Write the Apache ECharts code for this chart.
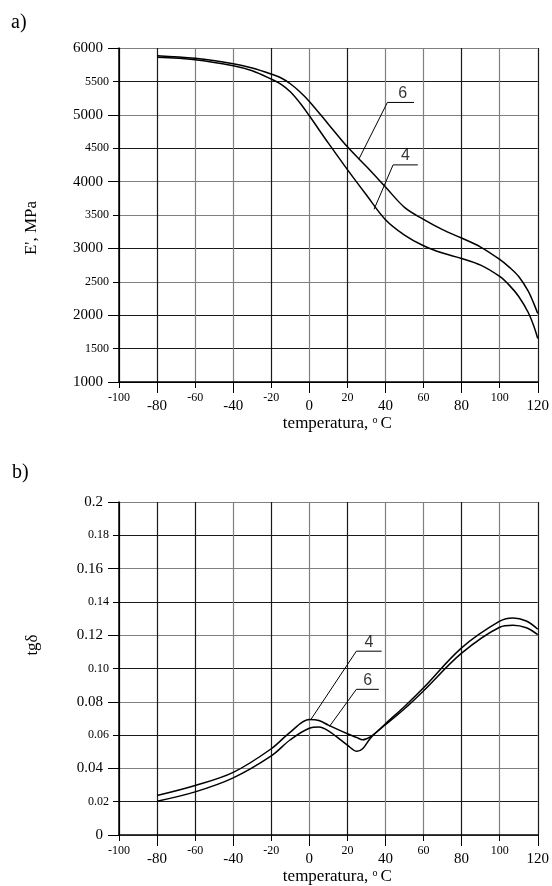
<!DOCTYPE html>
<html>
<head>
<meta charset="utf-8">
<script src="https://cdn.jsdelivr.net/npm/echarts@6/dist/echarts.min.js"></script>
<style>
  html, body { margin: 0; padding: 0; background: #fff; }
  #chart { width: 552px; height: 886px; }
</style>
</head>
<body>
<div id="chart"></div>
<script>
// a) storage modulus E' vs temperature
const tempTop = [-80, -60, -40, -30, -20, -15, -10, -5, 0, 10, 20, 30, 40, 50, 60, 70, 80, 90, 100, 105, 110, 115, 118, 120]
const eCurve6 = [5885, 5845, 5765, 5700, 5610, 5555, 5465, 5345, 5200, 4860, 4520, 4225, 3920, 3615, 3435, 3280, 3155, 3020, 2835, 2720, 2580, 2360, 2170, 2025]
const eCurve4 = [5860, 5825, 5735, 5660, 5535, 5460, 5345, 5180, 4985, 4575, 4180, 3800, 3430, 3200, 3040, 2930, 2850, 2750, 2580, 2450, 2280, 2040, 1830, 1650]

// b) loss tangent tg delta vs temperature
const tempBot = [-80, -60, -40, -20, -10, 0, 5, 10, 20, 25, 28, 32, 40, 50, 60, 80, 100, 107, 114, 120]
const tgCurve4 = [0.0237, 0.0297, 0.0376, 0.0518, 0.0618, 0.0693, 0.0688, 0.0660, 0.0608, 0.0585, 0.0572, 0.0590, 0.0662, 0.0758, 0.0866, 0.1092, 0.1248, 0.1260, 0.1245, 0.1204]
const tgCurve6 = [0.0203, 0.0259, 0.0343, 0.0475, 0.0572, 0.0641, 0.0648, 0.0625, 0.0540, 0.0503, 0.0518, 0.0580, 0.0668, 0.0772, 0.0884, 0.1124, 0.1284, 0.1304, 0.1285, 0.1236]

// tick labels
const xBigTicks = [-80, -40, 0, 40, 80, 120]
const xSmallTicks = [-100, -60, -20, 20, 60, 100]
const eBigTicks = [1000, 2000, 3000, 4000, 5000, 6000]
const eSmallTicks = [1500, 2500, 3500, 4500, 5500]
const tgBigTicks = [0, 0.04, 0.08, 0.12, 0.16, 0.2]
const tgBigLabels = ['0', '0.04', '0.08', '0.12', '0.16', '0.2']
const tgSmallTicks = [0.02, 0.06, 0.1, 0.14, 0.18]
const tgSmallLabels = ['0.02', '0.06', '0.10', '0.14', '0.18']

// curve callouts: [curve point, elbow, end of underline]
const calloutTop6 = [[26, 4335], [41, 5185], [55, 5185]]
const calloutTop4 = [[34, 3585], [44, 4250], [57, 4250]]
const calloutBot4 = [[1, 0.0697], [24.7, 0.1104], [38, 0.1104]]
const calloutBot6 = [[10.5, 0.0651], [24.7, 0.0875], [36.5, 0.0875]]
const calloutTopText = [[49, 5185, '6'], [50.5, 4250, '4']]
const calloutBotText = [[31.3, 0.1104, '4'], [30.6, 0.0875, '6']]

const serif = 'Liberation Serif'
const DK = '#1a1a1a'
const GR = '#808080'

let myChart = echarts.init(document.getElementById('chart'))

function pairs (xs, ys) {
  return xs.map((x, i) => [x, ys[i]])
}

function pickLabel (ticks, labels) {
  return v => {
    let i = ticks.findIndex(t => Math.abs(t - v) < 1e-9)
    return i < 0 ? '' : labels[i]
  }
}

function xAxes (gridIndex, splitColors) {
  return [
    {
      gridIndex,
      type: 'value',
      position: 'bottom',
      min: -100,
      max: 120,
      interval: 20,
      axisLine: { show: true, onZero: false, lineStyle: { color: '#000', width: 1.5 } },
      axisTick: { show: true, length: 6, lineStyle: { color: '#000', width: 1 } },
      axisLabel: { customValues: xSmallTicks, fontSize: 12, margin: 10, fontFamily: serif, color: '#000' },
      splitLine: { show: true, lineStyle: { color: splitColors, width: 1.2 } },
      name: '{t|temperatura, }{o|o}{t|C}',
      nameLocation: 'middle',
      nameGap: 33,
      nameTextStyle: {
        padding: [0, 0, 0, 18],
        rich: {
          t: { fontSize: 17, fontFamily: serif, color: '#000' },
          o: { fontSize: 10, fontFamily: serif, color: '#000', verticalAlign: 'top', padding: [0, 3, 0, 0] }
        }
      }
    },
    {
      gridIndex,
      type: 'value',
      position: 'bottom',
      min: -100,
      max: 120,
      axisLine: { show: false, onZero: false },
      axisTick: { show: true, length: 11, customValues: xBigTicks, lineStyle: { color: '#000', width: 1 } },
      axisLabel: { customValues: xBigTicks, fontSize: 15, margin: 17, fontFamily: serif, color: '#000' },
      splitLine: { show: false }
    }
  ]
}

function yAxes (gridIndex, min, max, interval, smallTicks, bigTicks, fmtSmall, fmtBig, splitColors) {
  return [
    {
      gridIndex,
      type: 'value',
      position: 'left',
      min,
      max,
      interval,
      axisLine: { show: true, onZero: false, lineStyle: { color: '#000', width: 1.5 } },
      axisTick: { show: true, length: 6, lineStyle: { color: '#000', width: 1 } },
      axisLabel: { customValues: smallTicks, formatter: fmtSmall, fontSize: 12, margin: 10, fontFamily: serif, color: '#000' },
      splitLine: { show: true, lineStyle: { color: splitColors, width: 1.2 } }
    },
    {
      gridIndex,
      type: 'value',
      position: 'left',
      min,
      max,
      axisLine: { show: false, onZero: false },
      axisTick: { show: true, length: 11, customValues: bigTicks, lineStyle: { color: '#000', width: 1 } },
      axisLabel: { customValues: bigTicks, formatter: fmtBig, fontSize: 15, margin: 16, fontFamily: serif, color: '#000' },
      splitLine: { show: false }
    }
  ]
}

function curve (xi, yi, data) {
  return {
    type: 'line',
    xAxisIndex: xi,
    yAxisIndex: yi,
    data,
    smooth: 0.35,
    symbol: 'none',
    silent: true,
    lineStyle: { color: '#000', width: 1.5 }
  }
}

function callout (xi, yi, data) {
  return {
    type: 'line',
    xAxisIndex: xi,
    yAxisIndex: yi,
    data,
    symbol: 'none',
    silent: true,
    lineStyle: { color: '#000', width: 1 }
  }
}

function calloutLabels (xi, yi, data) {
  return {
    type: 'scatter',
    xAxisIndex: xi,
    yAxisIndex: yi,
    data,
    symbolSize: 0,
    silent: true,
    label: {
      show: true,
      position: 'top',
      distance: 1,
      formatter: p => p.data[2],
      fontFamily: 'Liberation Sans',
      fontSize: 16,
      color: '#000'
    }
  }
}

let option = {
  animation: false,
  backgroundColor: '#fff',
  grid: [
    { left: 119, top: 48, right: 11, height: 334 },
    { left: 119, top: 502, right: 11, height: 335 }
  ],
  xAxis: [
    ...xAxes(0, ['#000', DK, GR, GR, DK, GR, DK, GR, GR, DK, GR, DK]),
    ...xAxes(1, ['#000', DK, DK, GR, DK, GR, DK, GR, GR, DK, GR, DK])
  ],
  yAxis: [
    ...yAxes(0, 1000, 6000, 500, eSmallTicks, eBigTicks,
      v => String(v), v => String(v),
      ['#000', DK, DK, GR, DK, GR, GR, DK, GR, DK, GR]),
    ...yAxes(1, 0, 0.2, 0.02, tgSmallTicks, tgBigTicks,
      pickLabel(tgSmallTicks, tgSmallLabels), pickLabel(tgBigTicks, tgBigLabels),
      [GR, DK, GR, DK, GR, DK, GR, DK, GR, DK, GR])
  ],
  graphic: [
    { type: 'text', x: 11, y: 23, style: { text: 'a)', fontSize: 20, fontFamily: serif, fill: '#000', verticalAlign: 'middle' } },
    { type: 'text', x: 12, y: 473, style: { text: 'b)', fontSize: 20, fontFamily: serif, fill: '#000', verticalAlign: 'middle' } },
    { type: 'text', x: 32, y: 228, rotation: Math.PI / 2, style: { text: "E', MPa", fontSize: 17, fontFamily: serif, fill: '#000', align: 'center', verticalAlign: 'middle' } },
    { type: 'text', x: 33, y: 645, rotation: Math.PI / 2, style: { text: 'tgδ', fontSize: 17, fontFamily: serif, fill: '#000', align: 'center', verticalAlign: 'middle' } }
  ],
  series: [
    curve(0, 0, pairs(tempTop, eCurve6)),
    curve(0, 0, pairs(tempTop, eCurve4)),
    callout(0, 0, calloutTop6),
    callout(0, 0, calloutTop4),
    calloutLabels(0, 0, calloutTopText),
    curve(2, 2, pairs(tempBot, tgCurve4)),
    curve(2, 2, pairs(tempBot, tgCurve6)),
    callout(2, 2, calloutBot4),
    callout(2, 2, calloutBot6),
    calloutLabels(2, 2, calloutBotText)
  ]
}
myChart.setOption(option, true)
</script>
</body>
</html>
